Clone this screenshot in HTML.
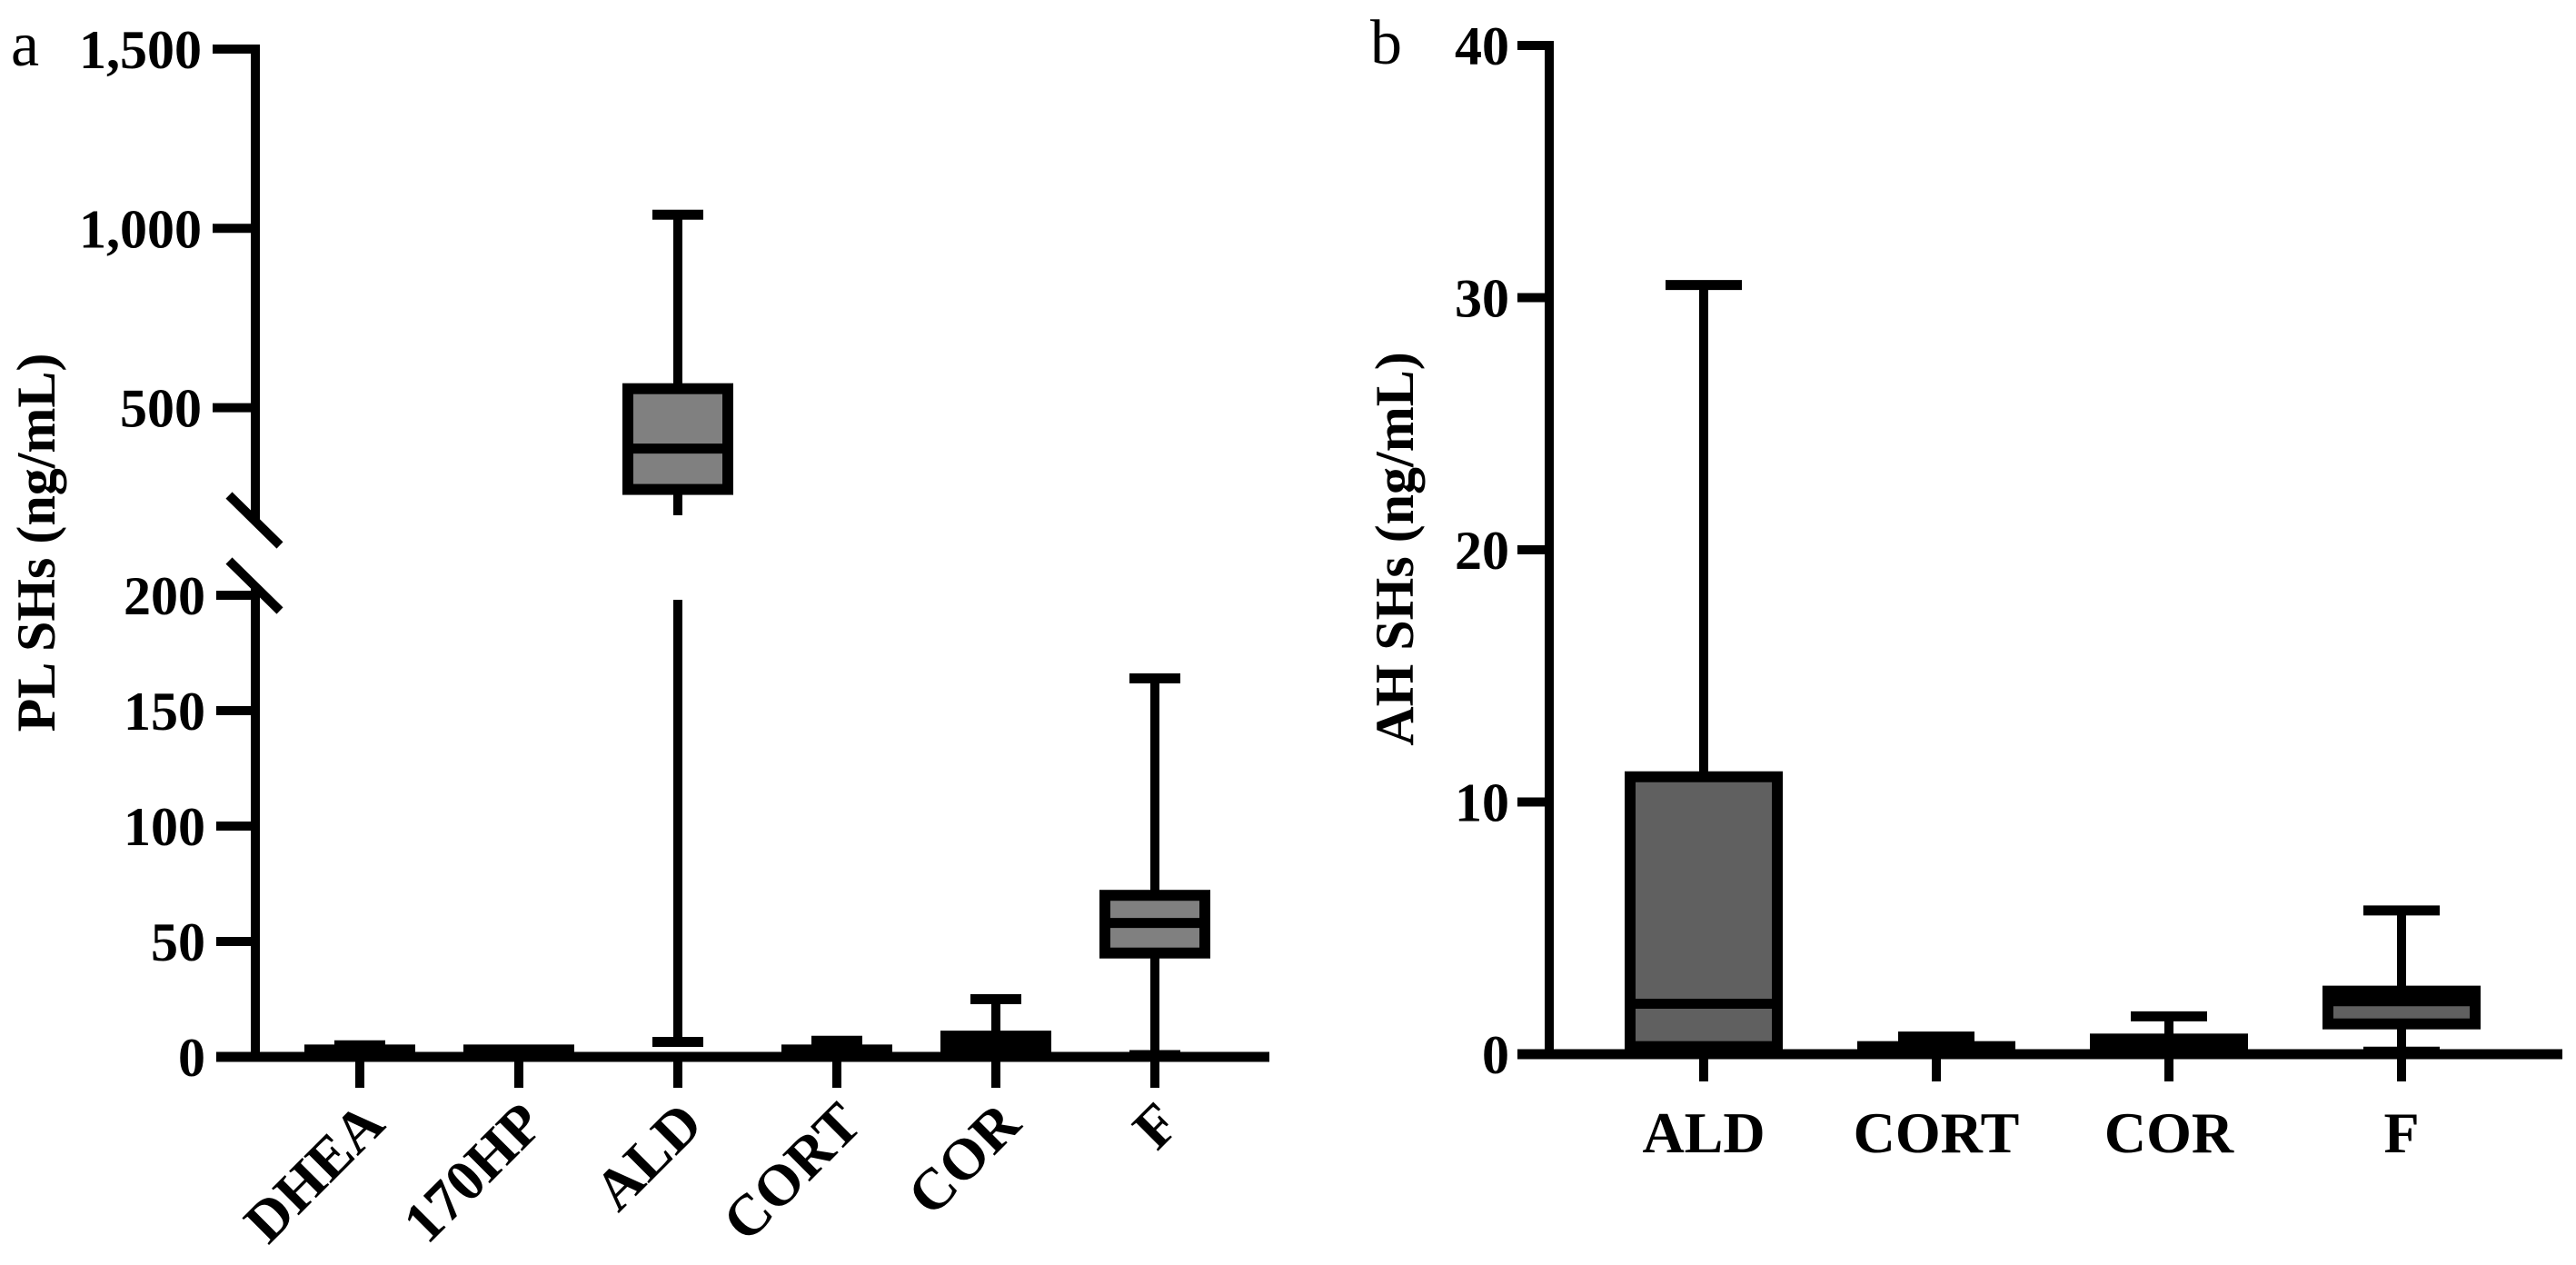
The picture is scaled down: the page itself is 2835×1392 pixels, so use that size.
<!DOCTYPE html>
<html><head><meta charset="utf-8"><style>
html,body{margin:0;padding:0;background:#fff;}
svg{display:block;font-family:"Liberation Serif",serif;font-weight:bold;}
</style></head><body>
<svg id="fig" width="2835" height="1392" viewBox="0 0 2835 1392" xmlns="http://www.w3.org/2000/svg">
<g id="pa"></g>
<g id="pb"></g>
</svg>
<script>
// Panel a data
const catsA = ["DHEA","170HP","ALD","CORT","COR","F"];
const minA = [0.3, 0.3, 6.5, 0.3, 0.5, 0.8];
const q1A = [0.5, 0.5, 272, 0.5, 3, 45];
const medA = [1.5, 1.5, 386, 1.5, 6, 58];
const q3A = [3, 3, 553, 3, 9, 70];
const maxA = [5, 3, 1038, 7, 25, 164];
const ticksLowA = [0, 50, 100, 150, 200];
const ticksHighA = [500, 1000, 1500];
const tickLabHighA = ["500","1,000","1,500"];
// Panel b data
const catsB = ["ALD","CORT","COR","F"];
const minB = [0.1, 0.05, 0.05, 0.1];
const q1B = [0.3, 0.1, 0.1, 1.2];
const medB = [2.0, 0.2, 0.3, 2.1];
const q3B = [11, 0.3, 0.6, 2.5];
const maxB = [30.5, 0.7, 1.5, 5.7];
const ticksB = [0, 10, 20, 30, 40];

const NS = "http://www.w3.org/2000/svg";
function mk(parent, tag, attrs, text){
  const e = document.createElementNS(NS, tag);
  for (const k in attrs) e.setAttribute(k, attrs[k]);
  if (text !== undefined) e.textContent = text;
  parent.appendChild(e);
  return e;
}
const pa = document.getElementById('pa');
const pb = document.getElementById('pb');

// ---- Panel a scales ----
const axA = 281, baseA = 1163;
function yLow(v){ return baseA - v * (1163 - 655) / 200; }
function yHigh(v){ return 567 - (v - 200) * (567 - 54) / 1300; }
function yA(v){ return v <= 200 ? yLow(v) : yHigh(v); }
function xA(i){ return 396 + i * 175; }

let e;
e = mk(pa,'line',{x1:axA,y1:49,x2:axA,y2:572,stroke:'#000','stroke-width':10});


e = mk(pa,'line',{x1:axA,y1:645,x2:axA,y2:1168,stroke:'#000','stroke-width':10});


e = mk(pa,'line',{x1:252,y1:545,x2:308,y2:600,stroke:'#000','stroke-width':10});


e = mk(pa,'line',{x1:252,y1:617,x2:308,y2:672,stroke:'#000','stroke-width':10});


e = mk(pa,'line',{x1:238,y1:baseA,x2:1397,y2:baseA,stroke:'#000','stroke-width':11});



ticksLowA.forEach(t=>{
  const y = yLow(t);
  e = mk(pa,'line',{x1:238,y1:y,x2:axA,y2:y,stroke:'#000','stroke-width':10});
  
  
  e = mk(pa,'text',{x:226,y:y+21,'text-anchor':'end','font-size':60},String(t));
  
  
});
ticksHighA.forEach((t,i)=>{
  const y = yHigh(t);
  e = mk(pa,'line',{x1:234,y1:y,x2:axA,y2:y,stroke:'#000','stroke-width':10});
  
  
  e = mk(pa,'text',{x:222,y:y+21,'text-anchor':'end','font-size':60},tickLabHighA[i]);
  
  
});

function drawBox(g, cx, ysc, mn, q1, md, q3, mx, bw, cw, fill, broken){
  if (broken && mx > 200 && mn < 200) {
    e = mk(g,'line',{x1:cx,y1:ysc(q3),x2:cx,y2:ysc(mx),stroke:'#000','stroke-width':10});
    
    
    e = mk(g,'line',{x1:cx,y1:ysc(q1),x2:cx,y2:yHigh(200),stroke:'#000','stroke-width':10});
    
    
    e = mk(g,'line',{x1:cx,y1:yLow(200)+5,x2:cx,y2:ysc(mn),stroke:'#000','stroke-width':10});
    
    
  } else {
    e = mk(g,'line',{x1:cx,y1:ysc(mn),x2:cx,y2:ysc(mx),stroke:'#000','stroke-width':10});
    
    
  }
  e = mk(g,'line',{x1:cx-cw/2,y1:ysc(mx),x2:cx+cw/2,y2:ysc(mx),stroke:'#000','stroke-width':11});
  
  
  e = mk(g,'line',{x1:cx-cw/2,y1:ysc(mn),x2:cx+cw/2,y2:ysc(mn),stroke:'#000','stroke-width':11});
  
  
  const top = ysc(q3), bot = ysc(q1);
  e = mk(g,'rect',{x:cx-bw/2,y:top,width:bw,height:Math.max(bot-top,1),fill:fill,stroke:'#000','stroke-width':12});
  
  
  e = mk(g,'line',{x1:cx-bw/2,y1:ysc(md),x2:cx+bw/2,y2:ysc(md),stroke:'#000','stroke-width':11});
  
  
}

catsA.forEach((c,i)=>{
  const cx = xA(i);
  const g = mk(pa,'g',{});
  
  
  drawBox(g, cx, yA, minA[i], q1A[i], medA[i], q3A[i], maxA[i], 110, 56, '#808080', true);
  e = mk(pa,'line',{x1:cx,y1:baseA,x2:cx,y2:1197,stroke:'#000','stroke-width':10});
  
  
  e = mk(pa,'text',{x:0,y:0,'text-anchor':'end','font-size':64,transform:`translate(${cx+30},1240) rotate(-45)`},c);
  
  
});

e = mk(pa,'text',{x:0,y:0,'text-anchor':'middle','font-size':60,transform:'translate(60,597) rotate(-90)'},'PL SHs (ng/mL)');


e = mk(pa,'text',{x:12,y:72,'font-size':70,'font-weight':'normal'},'a');



// ---- Panel b ----
const axB = 1705, baseB = 1160;
function yB(v){ return baseB - v * (1160 - 50) / 40; }
function xB(i){ return 1875 + i * 256; }

e = mk(pb,'line',{x1:axB,y1:45,x2:axB,y2:1165,stroke:'#000','stroke-width':10});


e = mk(pb,'line',{x1:1670,y1:baseB,x2:2820,y2:baseB,stroke:'#000','stroke-width':11});


ticksB.forEach(t=>{
  const y = yB(t);
  e = mk(pb,'line',{x1:1670,y1:y,x2:axB,y2:y,stroke:'#000','stroke-width':10});
  
  
  e = mk(pb,'text',{x:1661,y:y+21,'text-anchor':'end','font-size':60},String(t));
  
  
});
catsB.forEach((c,i)=>{
  const cx = xB(i);
  const g = mk(pb,'g',{});
  
  
  drawBox(g, cx, yB, minB[i], q1B[i], medB[i], q3B[i], maxB[i], 162, 84, '#606060', false);
  e = mk(pb,'line',{x1:cx,y1:baseB,x2:cx,y2:1190,stroke:'#000','stroke-width':10});
  
  
  e = mk(pb,'text',{x:cx,y:1268,'text-anchor':'middle','font-size':64},c);
  
  
});
e = mk(pb,'text',{x:0,y:0,'text-anchor':'middle','font-size':60,transform:'translate(1555,604) rotate(-90)'},'AH SHs (ng/mL)');


e = mk(pb,'text',{x:1508,y:70,'font-size':70,'font-weight':'normal'},'b');


</script>
</body></html>
